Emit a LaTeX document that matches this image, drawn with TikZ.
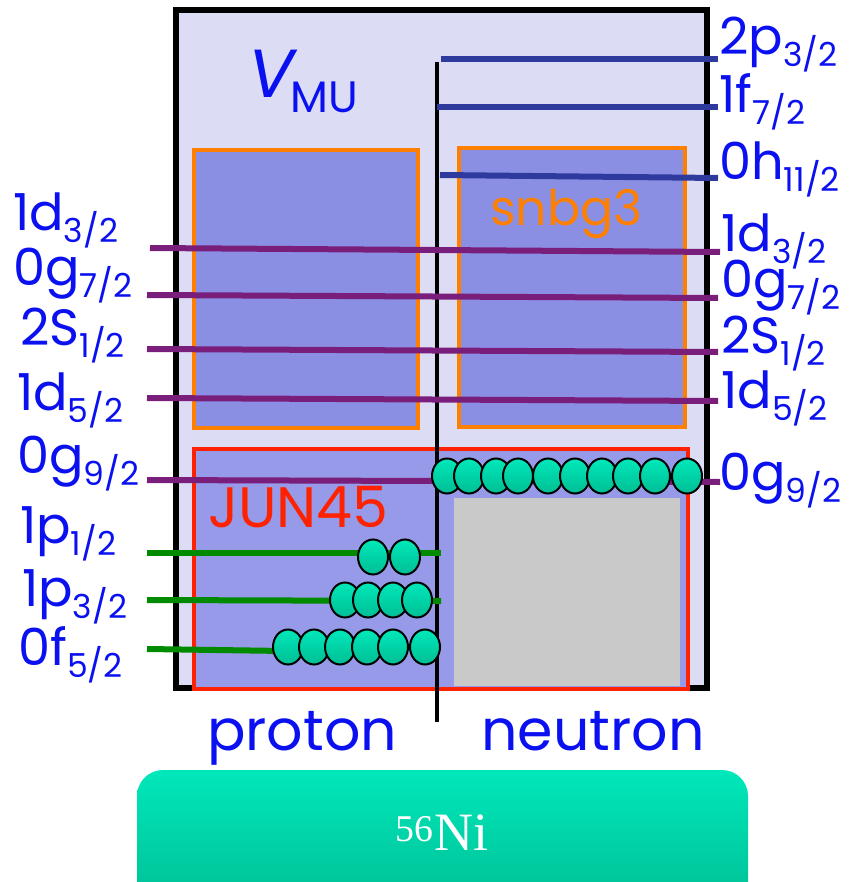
\documentclass[tikz,border=0pt]{standalone}
\usepackage{fontspec}
\setmainfont{Poppins}
\newfontfamily\nucfont{Liberation Serif}
\usepackage{tikz}
\definecolor{outerfill}{HTML}{DCDCF5}
\definecolor{spacefill}{HTML}{8A8FE4}
\definecolor{junfill}{HTML}{969AE8}
\definecolor{coregray}{HTML}{C9C9C9}
\definecolor{boxorange}{HTML}{FF7F00}
\definecolor{boxred}{HTML}{FF2200}
\definecolor{labelblue}{HTML}{0A10F0}
\definecolor{highblue}{HTML}{2E3A9E}
\definecolor{midpurple}{HTML}{7A1E7C}
\definecolor{lowgreen}{HTML}{008A00}
\definecolor{ballhi}{HTML}{00E8BA}
\definecolor{balllo}{HTML}{00BE94}
\newcommand{\orb}[2]{#1\raisebox{-12pt}{\fontsize{33}{33}\selectfont #2}}

\begin{document}
\begin{tikzpicture}[x=1pt,y=-1pt,
    orblabel/.style={text=labelblue, font=\fontsize{51}{53}\selectfont, inner sep=0pt},
    bigtext/.style={font=\fontsize{57}{59}\selectfont, inner sep=0pt},
    level/.style={line width=6pt},
    ball/.style={draw=black, line width=2pt, top color=ballhi, bottom color=balllo}]
    \useasboundingbox (0,0) rectangle (864,882);
    % model spaces
    \draw[line width=6pt, fill=outerfill] (176,10) rectangle (707,688);
    \draw[line width=4.5pt, draw=boxorange, fill=spacefill] (194,150) rectangle (418,428);
    \draw[line width=4.5pt, draw=boxorange, fill=spacefill] (459,148) rectangle (685,427);
    \draw[line width=4.5pt, draw=boxred, fill=junfill] (194,449) rectangle (688,689);
    \fill[coregray] (454,498) rectangle (680,686);
    \node[text=labelblue, anchor=base west, inner sep=0pt] (vmu) at (248,98) {\fontsize{68}{68}\selectfont\itshape V\kern-4pt\raisebox{-15pt}{\upshape\fontsize{44}{44}\selectfont MU}};
    \node[text=boxorange, anchor=base west, inner sep=0pt, font=\fontsize{49}{51}\selectfont] (snbg) at (490,226) {snbg3};
    \node[bigtext, text=boxred, anchor=base west] (jun) at (208,527) {JUN45};
    % proton | neutron
    \draw[line width=3.6pt] (437,62) -- (437,722);
    % neutron levels above the space
    \draw[level, highblue] (441,59) -- (718,59);
    \draw[level, highblue] (437,107) -- (718,107);
    \draw[level, highblue] (440,175) -- (718,178);
    % shared levels
    \draw[level, midpurple] (150,248) -- (720,252);
    \draw[level, midpurple] (147,295) -- (718,298);
    \draw[level, midpurple] (147,349) -- (718,352);
    \draw[level, midpurple] (147,398) -- (718,401);
    \draw[level, midpurple] (147,480) -- (720,482);
    % proton levels below
    \draw[level, lowgreen] (147,553) -- (441,553);
    \draw[level, lowgreen] (147,600) -- (441,601);
    \draw[level, lowgreen] (147,649) -- (285,651);
    % nucleons
    \foreach \x in {373,405} \path[ball] (\x,557) ellipse [x radius=15, y radius=17.5];
    \foreach \x in {345,368,393,417} \path[ball] (\x,600) ellipse [x radius=15, y radius=17.5];
    \foreach \x in {288,314,340,367,393,425} \path[ball] (\x,647) ellipse [x radius=15, y radius=17.5];
    \foreach \x in {447,469,496,518,548,575,602,628,655,687} \path[ball] (\x,476) ellipse [x radius=15, y radius=17.5];
    % orbit labels
    \node[orblabel, anchor=base west] (pd3) at (13,231) {\orb{1d}{3/2}};
    \node[orblabel, anchor=base west] (pg7) at (13,285) {\orb{0g}{7/2}};
    \node[orblabel, anchor=base west] (ps1) at (20,345) {\orb{2S}{1/2}};
    \node[orblabel, anchor=base west] (pd5) at (17,410) {\orb{1d}{5/2}};
    \node[orblabel, anchor=base west] (pg9) at (17,473) {\orb{0g}{9/2}};
    \node[orblabel, anchor=base west] (pp1) at (20,543) {\orb{1p}{1/2}};
    \node[orblabel, anchor=base west] (pp3) at (22,606) {\orb{1p}{3/2}};
    \node[orblabel, anchor=base west] (pf5) at (18,665) {\orb{0f}{5/2}};
    \node[orblabel, anchor=base west] (np3) at (719,55) {\orb{2p}{3/2}};
    \node[orblabel, anchor=base west] (nf7) at (719,113) {\orb{1f}{7/2}};
    \node[orblabel, anchor=base west] (nh11) at (719,180) {\orb{0h}{11/2}};
    \node[orblabel, anchor=base west] (nd3) at (721,252) {\orb{1d}{3/2}};
    \node[orblabel, anchor=base west] (ng7) at (721,298) {\orb{0g}{7/2}};
    \node[orblabel, anchor=base west] (ns1) at (721,353) {\orb{2S}{1/2}};
    \node[orblabel, anchor=base west] (nd5) at (721,408) {\orb{1d}{5/2}};
    \node[orblabel, anchor=base west] (ng9) at (719,490) {\orb{0g}{9/2}};
    \node[bigtext, text=labelblue, anchor=base] (prot) at (302,750) {proton};
    \node[bigtext, text=labelblue, anchor=base] (neut) at (593,750) {neutron};
    % core
    \shade[top color=ballhi, bottom color=balllo, rounded corners=26pt] (137,770) rectangle (748,910);
    \node[text=white, font=\nucfont\fontsize{54}{56}\selectfont] (core) at (442,833) {\textsuperscript{56}Ni};
\end{tikzpicture}
\end{document}
